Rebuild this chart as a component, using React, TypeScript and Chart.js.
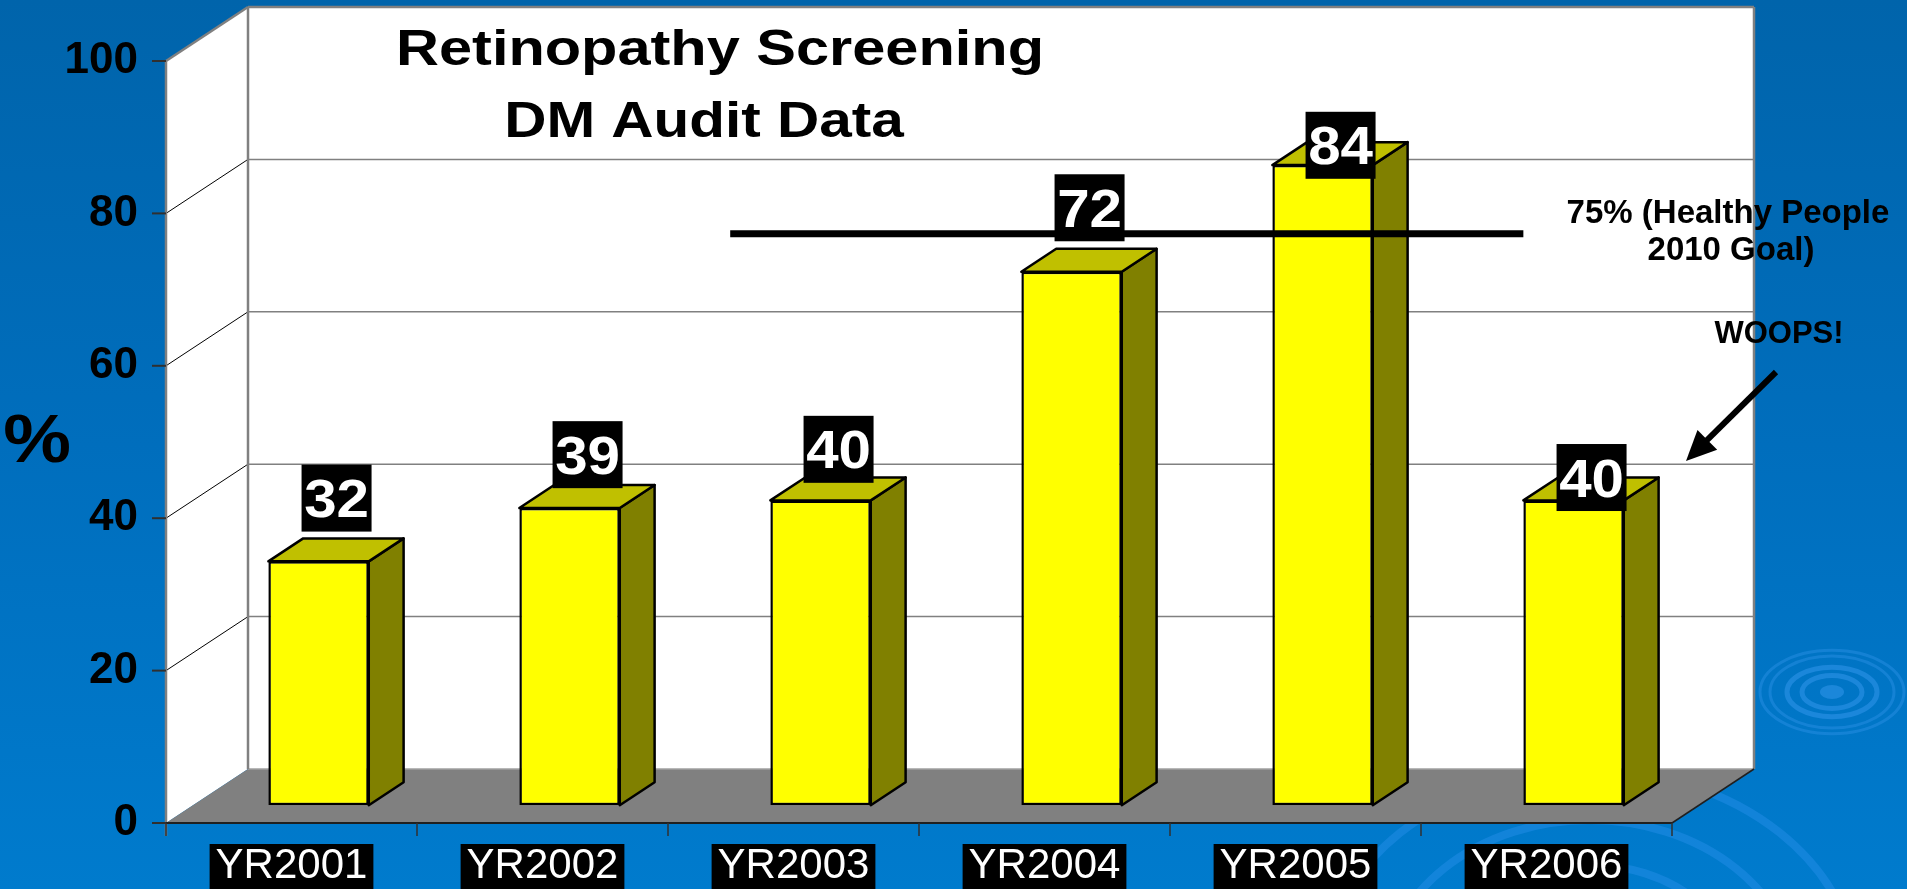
import React, { useEffect, useRef } from "react";
import { Chart, registerables } from "chart.js";

Chart.register(...registerables);

// ---------- data ----------
const categories = ["YR2001", "YR2002", "YR2003", "YR2004", "YR2005", "YR2006"];
const barValues = [32, 39, 40, 70, 84, 40];
const labelTexts = ["32", "39", "40", "72", "84", "40"];
const labelLift = [8.3, 7.0, 6.7, 8.4, 2.6, 3.0];
const yTickValues = [0, 20, 40, 60, 80, 100];
const goalValue = 75;
const goalFrom = 1.64;
const goalTo = 4.8;
const titleLines = ["Retinopathy Screening", "DM Audit Data"];
const goalLines = ["75% (Healthy People", "2010 Goal)"];
const noteText = "WOOPS!";
const yAxisTitle = "%";

// ---------- style ----------
const FONT = '"Liberation Sans", Arial, Helvetica, sans-serif';
const DEPTH_X = 82;
const DEPTH_Y = -54;
const BAR_Z = 0.33;
const BAR_D = 0.425;

type Pt = [number, number];

function poly(ctx: CanvasRenderingContext2D, pts: Pt[], fill?: string, stroke?: string, lw = 1) {
  ctx.beginPath();
  ctx.moveTo(pts[0][0], pts[0][1]);
  for (let i = 1; i < pts.length; i++) ctx.lineTo(pts[i][0], pts[i][1]);
  ctx.closePath();
  if (fill) {
    ctx.fillStyle = fill;
    ctx.fill();
  }
  if (stroke) {
    ctx.strokeStyle = stroke;
    ctx.lineWidth = lw;
    ctx.lineJoin = "round";
    ctx.stroke();
  }
}

function line(ctx: CanvasRenderingContext2D, x1: number, y1: number, x2: number, y2: number, color: string, lw: number) {
  ctx.beginPath();
  ctx.moveTo(x1, y1);
  ctx.lineTo(x2, y2);
  ctx.strokeStyle = color;
  ctx.lineWidth = lw;
  ctx.stroke();
}

function text(
  ctx: CanvasRenderingContext2D,
  s: string,
  x: number,
  y: number,
  font: string,
  color: string,
  sx = 1,
  align: CanvasTextAlign = "center"
) {
  ctx.save();
  ctx.translate(x, y);
  ctx.scale(sx, 1);
  ctx.font = font;
  ctx.fillStyle = color;
  ctx.textAlign = align;
  ctx.textBaseline = "alphabetic";
  ctx.fillText(s, 0, 0);
  ctx.restore();
}

const threeD = {
  id: "threeD",
  beforeDraw(chart: any) {
    const { ctx, chartArea: a, scales } = chart;
    const y = scales.y;
    const L = a.left, R = a.right, T = a.top, B = a.bottom;
    const dx = DEPTH_X, dy = DEPTH_Y;
    ctx.save();

    // ripples decoration (background)
    ctx.strokeStyle = "rgba(50,150,235,0.55)";
    ctx.lineWidth = 5;
    ctx.beginPath();
    ctx.ellipse(1832, 692, 12, 7, 0, 0, Math.PI * 2);
    ctx.fillStyle = "rgba(50,150,235,0.55)";
    ctx.fill();
    [30, 45].forEach((r) => {
      ctx.beginPath();
      ctx.ellipse(1832, 692, r, r * 0.55, 0, 0, Math.PI * 2);
      ctx.stroke();
    });
    ctx.lineWidth = 3;
    ctx.strokeStyle = "rgba(50,150,235,0.4)";
    [62, 72].forEach((r) => {
      ctx.beginPath();
      ctx.ellipse(1832, 692, r, r * 0.58, 0, 0, Math.PI * 2);
      ctx.stroke();
    });
    ctx.strokeStyle = "rgba(40,145,235,0.45)";
    ctx.lineWidth = 8;
    [120, 165, 215].forEach((r) => {
      ctx.beginPath();
      ctx.ellipse(1590, 985, r * 1.25, r, 0, 0, Math.PI * 2);
      ctx.stroke();
    });

    // back wall
    ctx.fillStyle = "#ffffff";
    ctx.fillRect(L + dx, T + dy, R - L, B - T);
    // left wall
    poly(ctx, [[L, B], [L, T], [L + dx, T + dy], [L + dx, B + dy]], "#ffffff");
    // floor
    poly(ctx, [[L, B], [R, B], [R + dx, B + dy], [L + dx, B + dy]], "#808080");

    // gridlines
    yTickValues.forEach((v) => {
      if (v === 0 || v === 100) return;
      const py = y.getPixelForValue(v);
      line(ctx, L + dx, py + dy, R + dx, py + dy, "#808080", 1.5);
      line(ctx, L, py, L + dx, py + dy, "#000000", 1);
    });

    // wall edges
    line(ctx, L + dx, B + dy, R + dx, B + dy, "#a0a0a0", 1.5);
    line(ctx, L + dx, T + dy, R + dx, T + dy, "#808080", 2.5);
    line(ctx, R + dx, T + dy, R + dx, B + dy, "#808080", 2.5);
    line(ctx, L + dx, T + dy, L + dx, B + dy, "#808080", 2.5);
    line(ctx, L, T, L + dx, T + dy, "#808080", 2.5);
    line(ctx, L, T, L, B + 13, "#808080", 2.5);
    // floor front edge / right edge
    line(ctx, L, B, R, B, "#202020", 2);
    line(ctx, R, B, R + dx, B + dy, "#202020", 1.5);

    // y ticks
    yTickValues.forEach((v) => {
      const py = y.getPixelForValue(v);
      line(ctx, L - 14, py, L, py, "#303030", 2);
    });
    // x ticks (category boundaries)
    for (let i = 0; i <= categories.length; i++) {
      const px = L + ((R - L) * i) / categories.length;
      line(ctx, px, B, px, B + 13, "#303030", 1.5);
    }
    ctx.restore();
  },
  beforeDatasetsDraw(chart: any) {
    const { ctx } = chart;
    const meta = chart.getDatasetMeta(0);
    const ox = DEPTH_X * BAR_Z, oy = DEPTH_Y * BAR_Z;
    const bx = DEPTH_X * BAR_D, by = DEPTH_Y * BAR_D;
    ctx.save();
    meta.data.forEach((bar: any) => {
      const p = bar.getProps(["x", "y", "base", "width"], true);
      const l = p.x - p.width / 2 + ox;
      const r = p.x + p.width / 2 + ox;
      const t = p.y + oy;
      const b = p.base + oy;
      poly(ctx, [[r, b], [r, t], [r + bx, t + by], [r + bx, b + by]], "#808000", "#000000", 2.5);
      poly(ctx, [[l, t], [r, t], [r + bx, t + by], [l + bx, t + by]], "#C0C000", "#000000", 2.5);
    });
    ctx.restore();
    ctx.save();
    ctx.translate(ox, oy);
  },
  afterDatasetsDraw(chart: any) {
    chart.ctx.restore();
  },
  afterDraw(chart: any) {
    const { ctx, scales } = chart;
    const x = scales.x, y = scales.y;
    const ox = DEPTH_X * BAR_Z, oy = DEPTH_Y * BAR_Z;
    ctx.save();

    // goal line
    const gy = y.getPixelForValue(goalValue) + oy;
    ctx.lineCap = "butt";
    line(ctx, x.getPixelForValue(goalFrom) + ox, gy, x.getPixelForValue(goalTo) + ox, gy, "#000000", 7);

    // value labels
    const meta = chart.getDatasetMeta(0);
    meta.data.forEach((bar: any, i: number) => {
      const cx = bar.x + ox + 18;
      const cy = y.getPixelForValue(barValues[i] + labelLift[i]) + oy;
      ctx.fillStyle = "#000000";
      ctx.fillRect(cx - 35, cy - 33.5, 70, 67);
      text(ctx, labelTexts[i], cx, cy + 19, `bold 53px ${FONT}`, "#ffffff", 1.1);
    });

    // title
    text(ctx, titleLines[0], 720, 65, `bold 50px ${FONT}`, "#000000", 1.19);
    text(ctx, titleLines[1], 704, 137, `bold 50px ${FONT}`, "#000000", 1.17);

    // goal annotation
    text(ctx, goalLines[0], 1728, 223, `bold 33px ${FONT}`, "#000000");
    text(ctx, goalLines[1], 1731, 260, `bold 33px ${FONT}`, "#000000");

    // note + arrow
    text(ctx, noteText, 1779, 343, `bold 31px ${FONT}`, "#000000");
    const x1 = 1776, y1 = 372, x2 = 1686, y2 = 461;
    const ang = Math.atan2(y2 - y1, x2 - x1);
    const headLen = 30, headW = 14;
    const hx = x2 - Math.cos(ang) * headLen, hy = y2 - Math.sin(ang) * headLen;
    line(ctx, x1, y1, hx + Math.cos(ang) * 4, hy + Math.sin(ang) * 4, "#000000", 6);
    poly(ctx, [
      [x2, y2],
      [hx + Math.sin(ang) * headW, hy - Math.cos(ang) * headW],
      [hx - Math.sin(ang) * headW, hy + Math.cos(ang) * headW],
    ], "#000000");

    // y axis title
    text(ctx, yAxisTitle, 37, 462, `bold 68px ${FONT}`, "#000000", 1.12);

    ctx.restore();
  },
};

export default function App() {
  const ref = useRef<HTMLCanvasElement>(null);

  useEffect(() => {
    document.body.style.margin = "0";
    const chart = new Chart(ref.current as HTMLCanvasElement, {
      type: "bar",
      data: {
        labels: categories,
        datasets: [
          {
            data: barValues,
            backgroundColor: "#FFFF00",
            borderColor: "#000000",
            borderWidth: 2.5,
            borderSkipped: false,
            categoryPercentage: 1,
            barPercentage: 0.4,
          },
        ],
      },
      options: {
        responsive: false,
        animation: false,
        devicePixelRatio: 1,
        layout: { padding: { top: 61, right: 235, left: 0, bottom: 0 } },
        plugins: {
          legend: { display: false },
          tooltip: { enabled: false },
          title: { display: false },
        },
        scales: {
          x: {
            grid: { display: false, drawTicks: false },
            border: { display: false },
            ticks: {
              color: "#ffffff",
              font: { family: FONT, size: 42, lineHeight: 1 },
              padding: 22,
              maxRotation: 0,
              autoSkip: false,
              showLabelBackdrop: true,
              backdropColor: "#000000",
              backdropPadding: { top: 1, bottom: 12, left: 6, right: 6 },
            } as any,
            afterFit: (s: any) => {
              s.height = 66;
            },
          },
          y: {
            min: 0,
            max: 100,
            grid: { display: false, drawTicks: false },
            border: { display: false },
            ticks: {
              stepSize: 20,
              color: "#000000",
              font: { family: FONT, size: 44, weight: "bold" },
              padding: 28,
            },
            afterFit: (s: any) => {
              s.width = 166;
            },
          },
        },
      },
      plugins: [threeD],
    });
    return () => chart.destroy();
  }, []);

  return (
    <div
      style={{
        position: "fixed",
        left: 0,
        top: 0,
        width: 1907,
        height: 889,
        overflow: "hidden",
        background: "linear-gradient(180deg, #0064AB 0%, #006EBD 50%, #007BCD 100%)",
      }}
    >
      <canvas ref={ref} width={1907} height={889} style={{ display: "block" }} />
    </div>
  );
}
